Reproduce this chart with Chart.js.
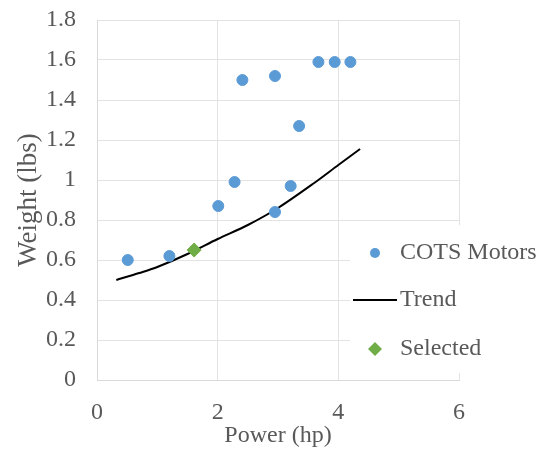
<!DOCTYPE html>
<html>
<head>
<meta charset="utf-8">
<script src="https://cdn.jsdelivr.net/npm/chart.js@4/dist/chart.umd.min.js"></script>
<style>
  html, body { margin: 0; padding: 0; background: #fff; }
  #wrap { width: 548px; height: 454px; }
</style>
</head>
<body>
<div id="wrap"><canvas id="grafico" width="548" height="454"></canvas></div>
<script>
// power (hp) and weight (lbs)
const cotsPower = [0.51, 1.20, 2.01, 2.28, 2.41, 2.95, 2.95, 3.21, 3.35, 3.67, 3.94, 4.20]
const cotsWeight = [0.60, 0.62, 0.87, 0.99, 1.50, 1.52, 0.84, 0.97, 1.27, 1.59, 1.59, 1.59]
const trendPower = [0.32, 0.70, 1.00, 1.50, 2.00, 2.50, 3.00, 3.60, 4.00, 4.36]
const trendWeight = [0.50, 0.535, 0.565, 0.63, 0.705, 0.775, 0.86, 0.985, 1.075, 1.155]
const selectedPower = [1.61]
const selectedWeight = [0.65]
const seriesNames = ['COTS Motors', 'Trend', 'Selected']
const xTicks = [0, 2, 4, 6]
const yTicks = [0, 0.2, 0.4, 0.6, 0.8, 1, 1.2, 1.4, 1.6, 1.8]

const cinza = '#595959'
const fonte = 'Liberation Serif, Times New Roman, serif'

function pares(xs, ys){
    let out = []
    for(let i = 0; i < xs.length; i++){
        out.push({x: xs[i], y: ys[i]})
    }
    return out
}

// legend drawn over the right side of the plot, like the original
const legendaPlugin = {
    id: 'legenda',
    afterDraw(chart){
        const ctx = chart.ctx
        ctx.save()
        ctx.fillStyle = '#ffffff'
        ctx.fillRect(350, 225, 198, 148)
        const ys = [253, 300, 349]
        chart.data.datasets.forEach((ds, i) => {
            const y = ys[i]
            const cx = 375
            if(ds.showLine){
                ctx.strokeStyle = ds.borderColor
                ctx.lineWidth = 2
                ctx.beginPath()
                ctx.moveTo(353, y)
                ctx.lineTo(397, y)
                ctx.stroke()
            } else if(ds.pointStyle === 'rectRot'){
                ctx.fillStyle = ds.backgroundColor
                ctx.beginPath()
                ctx.moveTo(cx, y - 7)
                ctx.lineTo(cx + 7, y)
                ctx.lineTo(cx, y + 7)
                ctx.lineTo(cx - 7, y)
                ctx.closePath()
                ctx.fill()
            } else {
                ctx.fillStyle = ds.backgroundColor
                ctx.beginPath()
                ctx.arc(cx, y, 5, 0, Math.PI * 2)
                ctx.fill()
            }
            ctx.fillStyle = cinza
            ctx.font = '24px ' + fonte
            ctx.textBaseline = 'middle'
            ctx.textAlign = 'left'
            ctx.fillText(ds.label, 400, y)
        })
        ctx.restore()
    }
}

function plotaGrafico(){
    const datasets = [
        {
            label: seriesNames[0],
            data: pares(cotsPower, cotsWeight),
            backgroundColor: '#5b9bd5',
            borderColor: '#5b9bd5',
            pointStyle: 'circle',
            pointRadius: 5.5,
            order: 1
        },
        {
            label: seriesNames[1],
            data: pares(trendPower, trendWeight),
            showLine: true,
            borderColor: '#000000',
            backgroundColor: '#000000',
            borderWidth: 2,
            pointRadius: 0,
            tension: 0.3,
            order: 3
        },
        {
            label: seriesNames[2],
            data: pares(selectedPower, selectedWeight),
            backgroundColor: '#70ad47',
            borderColor: '#70ad47',
            pointStyle: 'rectRot',
            pointRadius: 7,
            order: 0
        }
    ]

    const config = {
        type: 'scatter',
        data: { datasets: datasets },
        plugins: [legendaPlugin],
        options: {
            responsive: false,
            animation: false,
            layout: { padding: { top: 20, right: 89, left: 0, bottom: 0 } },
            plugins: {
                legend: { display: false },
                tooltip: { enabled: false }
            },
            scales: {
                x: {
                    type: 'linear',
                    min: 0,
                    max: 6,
                    afterBuildTicks: (axis) => { axis.ticks = xTicks.map(v => ({ value: v })) },
                    grid: { color: '#e3e3e3', drawTicks: false },
                    border: { color: '#d9d9d9' },
                    ticks: { color: cinza, font: { family: fonte, size: 24 }, padding: 18 },
                    title: { display: true, text: 'Power (hp)', color: cinza, font: { family: fonte, size: 24 }, padding: { top: 7 } },
                    afterFit: (axis) => {
                        axis.height = 74
                        axis.paddingLeft = 0
                        axis.paddingRight = 0
                    }
                },
                y: {
                    min: 0,
                    max: 1.8,
                    afterBuildTicks: (axis) => { axis.ticks = yTicks.map(v => ({ value: v })) },
                    grid: { color: '#e3e3e3', drawTicks: false },
                    border: { color: '#d9d9d9' },
                    ticks: {
                        color: cinza,
                        font: { family: fonte, size: 24 },
                        padding: 21,
                        callback: (v) => String(Number(v.toFixed(1)))
                    },
                    title: { display: true, text: 'Weight (lbs)', color: cinza, font: { family: fonte, size: 27 }, padding: { top: 13, bottom: 0 } },
                    afterFit: (axis) => {
                        axis.width = 97
                        axis.paddingTop = 0
                        axis.paddingBottom = 0
                    }
                }
            }
        }
    }
    const grafico = document.getElementById('grafico')
    return new Chart(grafico, config)
}

plotaGrafico()
</script>
</body>
</html>
